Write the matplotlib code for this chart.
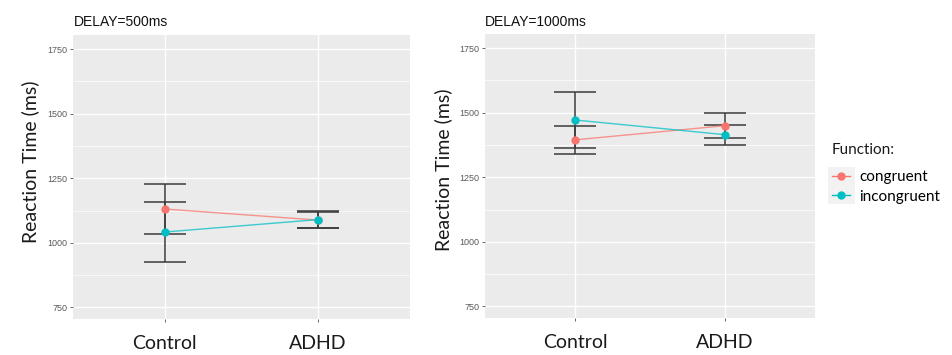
import numpy as np
import matplotlib
matplotlib.use("Agg")
from matplotlib import pyplot as plt
from matplotlib.patches import Rectangle
from matplotlib.lines import Line2D

groups = ["Control", "ADHD"]
functions = ["congruent", "incongruent"]
delays = ["DELAY=500ms", "DELAY=1000ms"]

# mean reaction times and error bar half widths, per delay
d500_congruent = [1131, 1088]
d500_congruent_err = [95, 30]
d500_incongruent = [1042, 1090]
d500_incongruent_err = [115, 33]
d1000_congruent = [1395, 1450]
d1000_congruent_err = [54, 48]
d1000_incongruent = [1472, 1415]
d1000_incongruent_err = [107, 38]

yticks = [750, 1000, 1250, 1500, 1750]

colors = {"congruent": "#F8766D", "incongruent": "#00BFC4"}
calibri_like = ["Lato", "DejaVu Sans"]

fig = plt.figure(figsize=(9.52, 3.55), dpi=100)
ax1 = fig.add_axes([73/952, 1-319/355, 337/952, 284/355])
ax2 = fig.add_axes([485/952, 1-318/355, 330/952, 284/355])

panels = [
    (ax1, {"congruent": (d500_congruent, d500_congruent_err),
           "incongruent": (d500_incongruent, d500_incongruent_err)}),
    (ax2, {"congruent": (d1000_congruent, d1000_congruent_err),
           "incongruent": (d1000_incongruent, d1000_incongruent_err)}),
]

x = np.arange(1, len(groups) + 1)
for ax, data in panels:
    ax.set_facecolor("#EBEBEB")
    for s in ax.spines.values():
        s.set_visible(False)
    ax.set_xlim(0.4, 2.6)
    ax.set_ylim(705, 1805)
    ax.set_yticks(yticks)
    ax.set_yticks([875, 1125, 1375, 1625], minor=True)
    ax.set_xticks(x)
    ax.grid(which="major", color="white", lw=1.0)
    ax.grid(which="minor", axis="y", color="white", lw=0.5)
    ax.set_axisbelow(True)
    ax.tick_params(axis="y", which="major", labelsize=6.5, labelcolor="#5a5a5a",
                   color="#4D4D4D", length=2.2, width=0.6, pad=2)
    ax.tick_params(axis="y", which="minor", length=0)
    ax.tick_params(axis="x", color="#4D4D4D", length=2.2, width=0.6, pad=9)
    ax.set_yticklabels([str(v) for v in yticks], family="Liberation Sans")
    ax.set_xticklabels(groups, family=calibri_like, fontsize=14, color="#1a1a1a")
    for fn in functions:
        vals, errs = data[fn]
        ax.errorbar(x, vals, yerr=errs, fmt="none", ecolor="#3a3a3a",
                    elinewidth=1.1, capsize=15, capthick=1.1, zorder=2)
    for fn in functions:
        vals, errs = data[fn]
        ax.plot(x, vals, color=colors[fn], lw=1.0, alpha=0.75, zorder=3)
        ax.plot(x, vals, "o", color=colors[fn], ms=5, zorder=4)

fig.text(74/952, 1-22/355, delays[0], family="Liberation Sans", fontsize=10,
         va="center", ha="left", color="#111111")
fig.text(485/952, 1-22/355, delays[1], family="Liberation Sans", fontsize=10,
         va="center", ha="left", color="#111111")

fig.text(30/952, 1-162/355, "Reaction Time (ms)", rotation=90, family=calibri_like,
         fontsize=14, va="center", ha="center", color="#1a1a1a")
fig.text(443/952, 1-170/355, "Reaction Time (ms)", rotation=90, family=calibri_like,
         fontsize=14, va="center", ha="center", color="#1a1a1a")

# legend: title as text, entries as a legend without frame
fig.text(832/952, 1-150/355, "Function:", family=calibri_like, fontsize=11,
         va="center", ha="left", color="#1a1a1a")
handles = [Line2D([], [], color=colors[fn], marker="o", ms=5, lw=1.0)
           for fn in functions]
leg = fig.legend(handles, functions, loc="upper left",
                 bbox_to_anchor=(832/952, 1-170/355), frameon=False,
                 borderpad=0, borderaxespad=0, handlelength=1.18,
                 handletextpad=0.6, labelspacing=0.38,
                 prop={"family": calibri_like, "size": 11})

# gray key background behind the legend handles
fig.canvas.draw()
r = fig.canvas.get_renderer()
boxes = [h.get_window_extent(r) for h in leg.legend_handles]
x0 = min(b.x0 for b in boxes) - 1
x1 = max(b.x1 for b in boxes) + 1
yc = [(b.y0 + b.y1) / 2 for b in boxes]
y0 = min(yc) - 9
y1 = max(yc) + 9
fig.patches.append(Rectangle((x0/952, y0/355), (x1-x0)/952, (y1-y0)/355,
                             transform=fig.transFigure, facecolor="#F2F2F2",
                             edgecolor="none", zorder=0))

fig.savefig("out.png", dpi=100)
